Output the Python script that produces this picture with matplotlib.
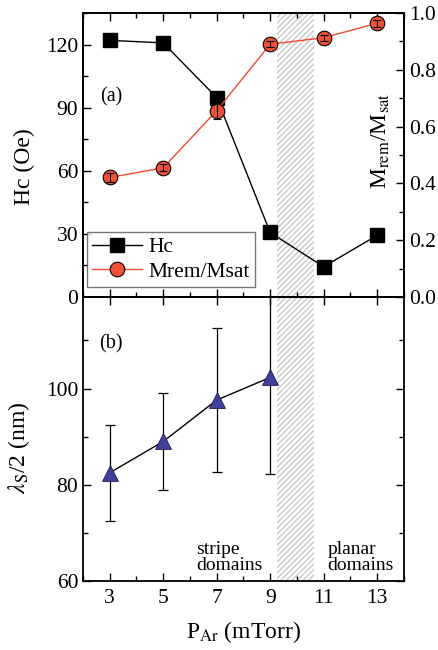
import matplotlib
matplotlib.use("Agg")
import matplotlib.pyplot as plt
from matplotlib.ticker import MultipleLocator

plt.rcParams['font.family'] = ['Liberation Serif', 'DejaVu Serif']
plt.rcParams['mathtext.fontset'] = 'stix'
plt.rcParams['hatch.color'] = '#c8c8c8'
plt.rcParams['hatch.linewidth'] = 1.0

p_ar = [3, 5, 7, 9, 11, 13]
hc = [122, 120.8, 94.8, 30.7, 14.4, 29.3]
mrem = [0.421, 0.455, 0.656, 0.890, 0.913, 0.964]
mrem_err = [0.015, 0.012, 0.03, 0.01, 0.01, 0.012]

p_lam = [3, 5, 7, 9]
lam = [82.5, 89.0, 97.6, 102.3]
lam_err = [10, 10, 15, 20]

fig = plt.figure(figsize=(4.38, 6.5), dpi=100)
ax_a = fig.add_axes([0.1895, 0.543, 0.7325, 0.437])
ax_b = fig.add_axes([0.1895, 0.106, 0.7325, 0.437], sharex=ax_a)
ax_r = ax_a.twinx()

# shaded transition region
for ax in (ax_a, ax_b):
    ax.axvspan(9.27, 10.63, facecolor='none', edgecolor='#c8c8c8', hatch='//////', lw=0, zorder=0)

# (a) Hc
l1, = ax_a.plot(p_ar, hc, color='black', lw=1, marker='s', ms=9.5,
                mfc='black', mec='black', label='Hc', zorder=3)
ax_a.set_xlim(2, 14)
ax_a.set_ylim(0, 135)
ax_a.yaxis.set_major_locator(MultipleLocator(30))
ax_a.yaxis.set_minor_locator(MultipleLocator(15))
ax_a.xaxis.set_major_locator(MultipleLocator(2, offset=1))
ax_a.xaxis.set_minor_locator(MultipleLocator(1))
ax_a.set_ylabel('Hc (Oe)', fontsize=17)
ax_a.yaxis.set_label_coords(-0.15, 0.46)
ax_a.tick_params(labelbottom=False)
ax_a.text(3.07, 95, '(a)', fontsize=14.5, ha='center', va='center')

# Mrem/Msat on right axis
l2, = ax_r.plot(p_ar, mrem, color='#f04a30', lw=1, marker='o', ms=10.5,
                mfc='#f05035', mec='black', mew=0.8, label='Mrem/Msat', zorder=3)
ax_r.errorbar(p_ar, mrem, yerr=mrem_err, fmt='none', ecolor='black',
              elinewidth=0.8, capsize=3, capthick=0.8, zorder=4)
ax_r.set_ylim(0, 1.0)
ax_r.yaxis.set_major_locator(MultipleLocator(0.2))
ax_r.yaxis.set_minor_locator(MultipleLocator(0.1))
ax_r.yaxis.set_major_formatter(plt.FormatStrFormatter('%.1f'))
ax_r.set_ylabel(r'M$_{\rm rem}$/M$_{\rm sat}$', fontsize=17)
ax_r.yaxis.set_label_coords(0.895, 0.55)

leg = ax_r.legend(handles=[l1, l2], loc='lower left', bbox_to_anchor=(0.012, 0.035),
                  fontsize=15.5, frameon=True, fancybox=False, edgecolor='#555555',
                  handlelength=2.3, handletextpad=0.3, borderpad=0.25,
                  labelspacing=0.2, borderaxespad=0)
leg.get_frame().set_linewidth(1.0)

# (b) stripe period
ax_b.errorbar(p_lam, lam, yerr=lam_err, fmt='none', ecolor='black',
              elinewidth=0.9, capsize=3.5, capthick=0.9, zorder=2)
ax_b.plot(p_lam, lam, color='black', lw=1, marker='^', ms=12,
          mfc='#40409a', mec='#202050', mew=0.6, zorder=3)
ax_b.set_ylim(60, 119)
ax_b.yaxis.set_major_locator(MultipleLocator(20))
ax_b.yaxis.set_minor_locator(MultipleLocator(10))
ax_b.set_ylabel(r'$\lambda_{\rm S}$/2 (nm)', fontsize=17)
ax_b.yaxis.set_label_coords(-0.16, 0.47)
ax_b.set_xlabel(r'P$_{\rm Ar}$ (mTorr)', fontsize=17, labelpad=8)
ax_b.text(3.04, 109.3, '(b)', fontsize=14.5, ha='center', va='center')
ax_b.text(6.22, 61.5, 'stripe\ndomains', fontsize=14, ha='left', va='bottom', linespacing=0.95)
ax_b.text(11.15, 61.5, 'planar\ndomains', fontsize=14, ha='left', va='bottom', linespacing=0.95)

for ax in (ax_a, ax_b, ax_r):
    ax.tick_params(which='both', direction='in', labelsize=15.5)
    ax.tick_params(which='major', length=6, width=1)
    ax.tick_params(which='minor', length=3.5, width=1)
    for s in ax.spines.values():
        s.set_linewidth(1.3)
ax_a.tick_params(which='both', top=True, bottom=True, left=True, right=False)
ax_r.tick_params(which='both', right=True)
ax_b.tick_params(which='both', left=True, right=True, bottom=True, top=True)
ax_b.tick_params(which='minor', top=False)
ax_b.tick_params(axis='x', pad=6)

fig.savefig('out.png', dpi=100)
